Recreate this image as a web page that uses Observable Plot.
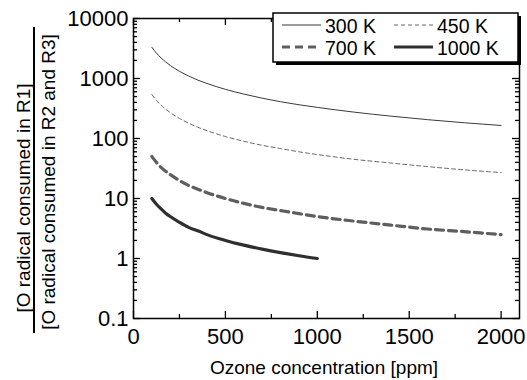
<!DOCTYPE html>
<html>
<head>
<meta charset="utf-8">
<script src="https://cdn.jsdelivr.net/npm/d3@7"></script>
<script src="https://cdn.jsdelivr.net/npm/@observablehq/plot@0.6"></script>
<style>
  body { margin: 0; background: #fff; }
  #chart svg { font-family: "Liberation Sans", Arial, sans-serif; }
</style>
</head>
<body>
<div id="chart"></div>
<script>
// Ozone concentration (ppm) and the ratio of O radical consumed in R1
// to O radical consumed in R2 and R3, for each temperature.
const ozone = [100, 125, 150, 175, 200, 250, 300, 350, 400, 500, 600, 700, 800, 900, 1000, 1200, 1400, 1600, 1800, 2000];
const ratio300K = [3300, 2640, 2200, 1890, 1650, 1320, 1100, 940, 825, 660, 550, 470, 410, 365, 330, 275, 236, 206, 183, 165];
const ratio450K = [540, 432, 360, 309, 270, 216, 180, 154, 135, 108, 90, 77, 68, 60, 54, 45, 39, 34, 30, 27];
const ratio700K = [50, 40, 33, 28.5, 25, 20, 16.5, 14.3, 12.5, 10, 8.3, 7.1, 6.3, 5.6, 5.0, 4.2, 3.6, 3.1, 2.8, 2.5];
const ozone1000K = [100, 125, 150, 175, 200, 250, 300, 350, 400, 500, 600, 700, 800, 900, 1000];
const ratio1000K = [10, 8, 6.7, 5.7, 5.0, 4.0, 3.3, 2.9, 2.5, 2.0, 1.67, 1.43, 1.25, 1.11, 1.0];

const seriesNames = ["300 K", "450 K", "700 K", "1000 K"];
const xTicks = [0, 500, 1000, 1500, 2000];
const xMinorTicks = [250, 750, 1250, 1750];
const yTicks = [0.1, 1, 10, 100, 1000, 10000];

// line styles for the four temperatures
const lineStyles = [
  { stroke: "#3a3a3a", strokeWidth: 1, strokeDasharray: null },
  { stroke: "#666666", strokeWidth: 1, strokeDasharray: "4,3" },
  { stroke: "#5e5e5e", strokeWidth: 3.2, strokeDasharray: "8,5" },
  { stroke: "#2e2e2e", strokeWidth: 3.2, strokeDasharray: null }
];

const rows = (xs, ys) => xs.map((x, i) => ({ x, y: ys[i] }));
const series = [
  rows(ozone, ratio300K),
  rows(ozone, ratio450K),
  rows(ozone, ratio700K),
  rows(ozone1000K, ratio1000K)
];

const yMinorTicks = yTicks.slice(0, -1).flatMap(d => d3.range(2, 10).map(k => k * d));

const W = 527, H = 380;
const margin = { top: 18, right: 8, bottom: 62, left: 133 };
const innerW = W - margin.left - margin.right;
const innerH = H - margin.top - margin.bottom;

const majorLen = 7, minorLen = 4;
const tickStyle = { stroke: "black", strokeWidth: 1.3 };

const chart = Plot.plot({
  width: W,
  height: H,
  marginTop: margin.top,
  marginRight: margin.right,
  marginBottom: margin.bottom,
  marginLeft: margin.left,
  style: { background: "white", color: "black", fontFamily: "'Liberation Sans', Arial, sans-serif" },
  x: { domain: [0, 2100] },
  y: { type: "log", domain: [0.1, 10000] },
  marks: [
    ...series.map((data, i) => Plot.line(data, {
      x: "x", y: "y",
      curve: "monotone-x",
      stroke: lineStyles[i].stroke,
      strokeWidth: lineStyles[i].strokeWidth,
      strokeDasharray: lineStyles[i].strokeDasharray
    })),
    // inward ticks on all four sides
    Plot.ruleX(xTicks, { insetTop: innerH - majorLen, ...tickStyle }),
    Plot.ruleX(xTicks, { insetBottom: innerH - majorLen, ...tickStyle }),
    Plot.ruleX(xMinorTicks, { insetTop: innerH - minorLen, ...tickStyle }),
    Plot.ruleX(xMinorTicks, { insetBottom: innerH - minorLen, ...tickStyle }),
    Plot.ruleY(yTicks, { insetRight: innerW - majorLen, ...tickStyle }),
    Plot.ruleY(yTicks, { insetLeft: innerW - majorLen, ...tickStyle }),
    Plot.ruleY(yMinorTicks, { insetRight: innerW - minorLen, ...tickStyle }),
    Plot.ruleY(yMinorTicks, { insetLeft: innerW - minorLen, ...tickStyle }),
    Plot.frame({ stroke: "black", strokeWidth: 1.5 }),
    Plot.axisX(xTicks, { tickSize: 0, tickPadding: 10, fontSize: 22, label: null, tickFormat: d => String(d) }),
    Plot.axisY(yTicks, { tickSize: 0, tickPadding: 5, fontSize: 22, label: null, tickFormat: d => String(d) })
  ]
});

document.getElementById("chart").appendChild(chart);

const svg = d3.select(chart);
const font = "'Liberation Sans', Arial, sans-serif";

// x-axis title
svg.append("text")
  .attr("x", 324).attr("y", 374)
  .attr("text-anchor", "middle")
  .attr("font-size", 19).attr("font-family", font).attr("fill", "black")
  .text("Ozone concentration [ppm]");

// y-axis title written as a fraction
svg.append("text")
  .attr("transform", "translate(30,198) rotate(-90)")
  .attr("text-anchor", "middle")
  .attr("font-size", 19).attr("font-family", font).attr("fill", "black")
  .text("[O radical consumed in R1]");
svg.append("line")
  .attr("x1", 34).attr("x2", 34).attr("y1", 27).attr("y2", 333)
  .attr("stroke", "black").attr("stroke-width", 2);
svg.append("text")
  .attr("transform", "translate(55,182) rotate(-90)")
  .attr("text-anchor", "middle")
  .attr("font-size", 19).attr("font-family", font).attr("fill", "black")
  .text("[O radical consumed in R2 and R3]");

// legend box with drop shadow
const lg = svg.append("g");
lg.append("rect").attr("x", 276).attr("y", 16).attr("width", 245).attr("height", 49).attr("fill", "black");
lg.append("rect").attr("x", 273).attr("y", 13).attr("width", 245).attr("height", 49)
  .attr("fill", "white").attr("stroke", "black").attr("stroke-width", 1.5);
const entries = [
  { x: 282, y: 25 }, { x: 394, y: 25 },
  { x: 282, y: 47 }, { x: 394, y: 47 }
];
seriesNames.forEach((name, i) => {
  const e = entries[i], s = lineStyles[i];
  lg.append("line")
    .attr("x1", e.x).attr("x2", e.x + 39).attr("y1", e.y).attr("y2", e.y)
    .attr("stroke", s.stroke).attr("stroke-width", s.strokeWidth)
    .attr("stroke-dasharray", s.strokeDasharray);
  lg.append("text")
    .attr("x", e.x + 43).attr("y", e.y + 7.5)
    .attr("text-anchor", "start")
    .attr("font-size", 19.5).attr("font-family", font).attr("fill", "black")
    .text(name);
});
</script>
</body>
</html>
